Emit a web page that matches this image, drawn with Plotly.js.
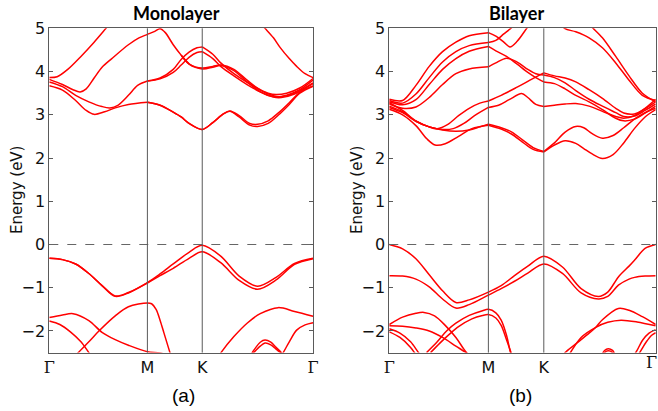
<!DOCTYPE html>
<html>
<head>
<meta charset="utf-8">
<script src="https://cdn.plot.ly/plotly-3.0.1.min.js"></script>
<style>html,body{margin:0;padding:0;background:#fff}</style>
</head>
<body>
<div id="chart" style="width:658px;height:411px"></div>
<script>
// high-symmetry points along the k-path (fraction of path length)
const kPoints = [0, 0.372, 0.58, 1];
const kLabels = ['Γ', 'M', 'K', 'Γ'];

// ---------------- Monolayer (a) ----------------
// valence bands
const mV1_x = [0,0.05,0.1,0.15,0.2,0.25,0.3,0.372,0.42,0.47,0.53,0.58,0.65,0.72,0.79,0.86,0.93,1];
const mV1a_y = [-0.32,-0.35,-0.45,-0.67,-0.95,-1.19,-1.11,-0.88,-0.68,-0.45,-0.18,-0.02,-0.27,-0.73,-0.965,-0.76,-0.44,-0.32];
const mV1b_y = [-0.32,-0.35,-0.45,-0.67,-0.95,-1.2,-1.12,-0.89,-0.72,-0.55,-0.32,-0.17,-0.42,-0.83,-1.035,-0.82,-0.46,-0.33];
const mV2_x = [0,0.05,0.09,0.15,0.2,0.25,0.3,0.372,0.42,0.47];
const mV2_y = [-1.69,-1.63,-1.6,-1.76,-2.03,-2.2,-2.33,-2.48,-2.51,-2.6];
const mV3_x = [0,0.04,0.08,0.12,0.15,0.18];
const mV3_y = [-1.77,-1.85,-2.02,-2.25,-2.5,-2.75];
const mV4_x = [0.09,0.11,0.15,0.19,0.25,0.3,0.372,0.388,0.405,0.42,0.435,0.45,0.465];
const mV4_y = [-2.65,-2.5,-2.25,-1.99,-1.65,-1.44,-1.35,-1.37,-1.5,-1.75,-2.05,-2.35,-2.65];
const mV5_x = [0.64,0.651,0.7,0.75,0.8,0.868,0.93,1];
const mV5_y = [-2.6,-2.5,-2.13,-1.82,-1.6,-1.46,-1.55,-1.66];
const mV6_x = [0.87,0.887,0.91,0.938,0.97,1];
const mV6_y = [-2.65,-2.5,-2.25,-1.98,-1.86,-1.81];
const mV7_x = [0.76,0.775,0.8,0.818,0.84,0.86,0.88,0.89];
const mV7a_y = [-2.6,-2.45,-2.26,-2.21,-2.26,-2.38,-2.5,-2.6];
const mV7b_y = [-2.6,-2.5,-2.35,-2.28,-2.32,-2.42,-2.52,-2.6];
// conduction bands
const mC1_x = [0,0.03,0.07,0.12,0.17,0.215,0.25];
const mC1_y = [3.86,3.88,4.05,4.35,4.68,5.0,5.25];
const mC2_x = [0,0.05,0.09,0.117,0.14,0.17,0.2,0.237,0.3,0.34,0.372,0.4,0.42,0.44,0.47,0.5,0.53];
const mC2_y = [3.82,3.7,3.58,3.53,3.6,3.85,4.1,4.3,4.62,4.78,4.86,4.93,4.99,4.9,4.62,4.38,4.18];
const mC3_x = [0,0.05,0.1,0.15,0.2,0.23,0.26,0.3,0.335,0.372];
const mC3_y = [3.76,3.65,3.45,3.3,3.19,3.16,3.22,3.45,3.68,3.78];
const mC4_x = [0,0.05,0.1,0.14,0.17,0.21,0.25,0.3,0.372];
const mC4_y = [3.67,3.57,3.33,3.1,3.01,3.07,3.16,3.24,3.29];
const mC5_x = [0.372,0.42,0.47,0.5,0.53,0.56,0.58];
const mC5a_y = [3.78,3.85,4.05,4.28,4.45,4.55,4.57];
const mC5b_y = [3.78,3.83,3.98,4.15,4.33,4.44,4.46];
const mC6_x = [0.5,0.53,0.58,0.62,0.65,0.7,0.75,0.8,0.85,0.88,0.93,1];
const mC6a_y = [4.38,4.18,4.08,4.12,4.15,4.05,3.8,3.57,3.44,3.42,3.5,3.74];
const mC6b_y = [4.38,4.17,4.06,4.1,4.14,4.02,3.76,3.53,3.41,3.4,3.48,3.72];
const mC7_x = [0.58,0.62,0.65,0.7,0.75,0.8,0.83,0.86,0.9,0.95,1];
const mC7a_y = [4.57,4.4,4.2,3.95,3.75,3.58,3.5,3.47,3.5,3.62,3.84];
const mC7b_y = [4.46,4.3,4.12,3.9,3.7,3.53,3.45,3.41,3.45,3.58,3.8];
const mC8_x = [0.372,0.42,0.47,0.5,0.53,0.58,0.62,0.66,0.685,0.72,0.76,0.79,0.83,0.87,0.91,0.95,1];
const mC8a_y = [3.29,3.22,3.06,2.95,2.8,2.66,2.82,3.02,3.09,2.98,2.8,2.78,2.86,3.05,3.28,3.52,3.67];
const mC8b_y = [3.29,3.22,3.06,2.95,2.8,2.66,2.82,3.02,3.08,2.95,2.76,2.73,2.8,3.0,3.24,3.5,3.66];
const mC9_x = [0.8,0.818,0.85,0.875,0.91,0.938,0.97,1];
const mC9_y = [5.12,5.0,4.78,4.56,4.3,4.12,3.95,3.86];

// ---------------- Bilayer (b) ----------------
const bV1_x = [0,0.05,0.1,0.15,0.2,0.25,0.3,0.372,0.42,0.47,0.52,0.58,0.65,0.72,0.785,0.82,0.86,0.9,0.921,0.96,1];
const bV1a_y = [0,-0.1,-0.33,-0.7,-1.07,-1.34,-1.28,-1.1,-0.95,-0.72,-0.5,-0.27,-0.52,-1.02,-1.2,-1.1,-0.75,-0.5,-0.36,-0.09,0];
const bV1b_y = [-0.72,-0.73,-0.8,-0.98,-1.26,-1.47,-1.39,-1.17,-1.02,-0.85,-0.66,-0.45,-0.67,-1.12,-1.26,-1.2,-0.94,-0.8,-0.76,-0.73,-0.72];
const bV2_x = [0.14,0.18,0.215,0.25,0.3,0.35,0.372,0.4,0.42,0.44,0.455,0.47];
const bV2_y = [-2.5,-2.25,-2.0,-1.82,-1.64,-1.53,-1.5,-1.58,-1.75,-2.1,-2.5,-2.8];
const bV3_x = [0.155,0.19,0.225,0.26,0.31,0.35,0.372,0.4,0.42,0.44,0.46,0.475];
const bV3_y = [-2.5,-2.28,-2.08,-1.9,-1.72,-1.64,-1.62,-1.7,-1.87,-2.2,-2.55,-2.8];
const bV4_x = [0,0.05,0.1,0.13,0.17,0.21,0.25,0.28,0.31];
const bV4_y = [-1.85,-1.68,-1.59,-1.57,-1.65,-1.87,-2.15,-2.42,-2.65];
const bV5_x = [0,0.05,0.1,0.15,0.2,0.25,0.3,0.33];
const bV5_y = [-1.88,-1.89,-1.93,-2.0,-2.15,-2.35,-2.55,-2.7];
const bV6_x = [0,0.04,0.08,0.11,0.13];
const bV6_y = [-1.95,-2.05,-2.25,-2.5,-2.65];
const bV7_x = [0,0.04,0.08,0.1,0.12];
const bV7_y = [-2.02,-2.15,-2.38,-2.55,-2.7];
const bV8_x = [0.65,0.66,0.7,0.75,0.777,0.8,0.86,0.9,0.95,1];
const bV8_y = [-2.6,-2.5,-2.3,-2.05,-1.9,-1.74,-1.48,-1.52,-1.67,-1.85];
const bV9_x = [0.67,0.68,0.72,0.777,0.82,0.87,0.93,1];
const bV9_y = [-2.6,-2.5,-2.15,-1.91,-1.8,-1.75,-1.79,-1.88];
const bV10_x = [0.915,0.93,0.95,0.975,1];
const bV10_y = [-2.6,-2.45,-2.22,-2.05,-1.97];
const bV11_x = [0.93,0.945,0.965,0.985,1];
const bV11_y = [-2.6,-2.45,-2.25,-2.1,-2.04];
const bV12_x = [0.795,0.808,0.822,0.838,0.85];
const bV12a_y = [-2.58,-2.45,-2.41,-2.45,-2.58];
const bV12b_y = [-2.62,-2.5,-2.46,-2.5,-2.62];
// conduction Γ-M
const bCG_x = [0,0.05,0.1,0.15,0.2,0.25,0.3,0.372];
const bC1_y = [3.36,3.33,3.68,4.12,4.46,4.68,4.83,4.9];
const bC2_y = [3.33,3.27,3.48,3.86,4.22,4.46,4.6,4.67];
const bC3_y = [3.3,3.23,3.35,3.7,4.05,4.3,4.47,4.58];
const bC4_y = [3.25,3.15,3.18,3.4,3.7,3.95,4.06,4.11];
const bC5_x = [0,0.05,0.1,0.15,0.18,0.22,0.26,0.3,0.34,0.372];
const bC5_y = [3.28,3.1,2.86,2.72,2.68,2.78,2.98,3.15,3.27,3.32];
const bC6_x = [0,0.05,0.1,0.15,0.2,0.24,0.28,0.32,0.372];
const bC6_y = [3.2,3.07,2.85,2.72,2.66,2.68,2.8,2.98,3.17];
const bC7_x = [0,0.05,0.1,0.15,0.2,0.25,0.3,0.34,0.372];
const bC7_y = [3.17,3.05,2.85,2.72,2.65,2.62,2.65,2.72,2.78];
const bC8_x = [0,0.05,0.1,0.14,0.172,0.21,0.26,0.31,0.372];
const bC8_y = [3.13,3.0,2.75,2.45,2.3,2.33,2.5,2.68,2.76];
// conduction M-K
const bC9_x = [0.372,0.4,0.43,0.453,0.48,0.516,0.54];
const bC9_y = [4.9,4.82,4.68,4.57,4.7,5.0,5.2];
const bC10_x = [0.372,0.4,0.43,0.46,0.49];
const bC10_y = [4.67,4.72,4.87,5.02,5.2];
const bCMK_x = [0.372,0.4,0.44,0.48,0.52,0.55,0.58];
const bC11_y = [4.58,4.48,4.35,4.17,3.98,3.86,3.76];
const bC12_y = [4.11,4.2,4.31,4.22,4.05,3.95,3.92];
const bC13_x = [0.372,0.42,0.48,0.528,0.58];
const bC13_y = [3.32,3.45,3.64,3.8,3.97];
const bC14_x = [0.372,0.41,0.45,0.497,0.52,0.55,0.58];
const bC14_y = [3.17,3.22,3.35,3.49,3.4,3.24,3.19];
const bC15_x = [0.372,0.42,0.46,0.5,0.54,0.58];
const bC15_y = [2.78,2.7,2.6,2.42,2.24,2.15];
const bC16_y = [2.76,2.67,2.55,2.37,2.2,2.14];
// conduction K-Γ
const bC17_x = [0.62,0.658,0.7,0.75,0.8,0.85,0.9,0.95,1];
const bC17_y = [5.3,5.0,4.92,4.78,4.55,4.2,3.8,3.45,3.33];
const bC18_x = [0.74,0.765,0.8,0.85,0.9,0.95,1];
const bC18_y = [5.15,5.0,4.78,4.35,3.9,3.5,3.3];
const bCKG_x = [0.58,0.62,0.66,0.7,0.75,0.8,0.85,0.88,0.92,0.96,1];
const bC19_y = [3.97,3.9,3.85,3.76,3.58,3.38,3.15,3.04,3.02,3.14,3.3];
const bC20_y = [3.92,3.86,3.74,3.56,3.36,3.2,3.05,2.96,2.97,3.1,3.25];
const bC21_y = [3.76,3.72,3.6,3.45,3.3,3.12,2.92,2.86,2.9,3.04,3.2];
const bC22_y = [3.19,3.22,3.25,3.26,3.2,3.08,2.96,2.92,2.98,3.15,3.36];
const bC23_x = [0.58,0.62,0.66,0.7,0.73,0.76,0.8,0.84,0.88,0.92,0.96,1];
const bC23_y = [2.15,2.35,2.6,2.73,2.7,2.57,2.46,2.52,2.7,2.9,3.05,3.15];
const bC24_y = [2.14,2.3,2.4,2.34,2.22,2.1,1.99,2.08,2.35,2.68,2.95,3.12];

const monoBands = [
  [mV1_x,mV1a_y],[mV1_x,mV1b_y],[mV2_x,mV2_y],[mV3_x,mV3_y],[mV4_x,mV4_y],
  [mV5_x,mV5_y],[mV6_x,mV6_y],[mV7_x,mV7a_y],[mV7_x,mV7b_y],
  [mC1_x,mC1_y],[mC2_x,mC2_y],[mC3_x,mC3_y],[mC4_x,mC4_y],[mC5_x,mC5a_y],[mC5_x,mC5b_y],
  [mC6_x,mC6a_y],[mC6_x,mC6b_y],[mC7_x,mC7a_y],[mC7_x,mC7b_y],[mC8_x,mC8a_y],[mC8_x,mC8b_y],[mC9_x,mC9_y]
];
const biBands = [
  [bV1_x,bV1a_y],[bV1_x,bV1b_y],[bV2_x,bV2_y],[bV3_x,bV3_y],[bV4_x,bV4_y],[bV5_x,bV5_y],
  [bV6_x,bV6_y],[bV7_x,bV7_y],[bV8_x,bV8_y],[bV9_x,bV9_y],[bV10_x,bV10_y],[bV11_x,bV11_y],
  [bV12_x,bV12a_y],[bV12_x,bV12b_y],
  [bCG_x,bC1_y],[bCG_x,bC2_y],[bCG_x,bC3_y],[bCG_x,bC4_y],[bC5_x,bC5_y],[bC6_x,bC6_y],[bC7_x,bC7_y],[bC8_x,bC8_y],
  [bC9_x,bC9_y],[bC10_x,bC10_y],[bCMK_x,bC11_y],[bCMK_x,bC12_y],[bC13_x,bC13_y],[bC14_x,bC14_y],
  [bC15_x,bC15_y],[bC15_x,bC16_y],
  [bC17_x,bC17_y],[bC18_x,bC18_y],[bCKG_x,bC19_y],[bCKG_x,bC20_y],[bCKG_x,bC21_y],[bCKG_x,bC22_y],
  [bC23_x,bC23_y],[bC23_x,bC24_y]
];

const traces = [];
function addBand(b, xa, ya){
  traces.push({x:b[0], y:b[1], xaxis:xa, yaxis:ya, type:'scatter', mode:'lines',
    line:{color:'rgb(255,0,0)', width:1.5, shape:'spline', smoothing:0.9},
    hoverinfo:'skip', showlegend:false});
}
monoBands.forEach(b => addBand(b,'x','y'));
biBands.forEach(b => addBand(b,'x2','y2'));

const gray = '#5a5a5a';
const tickFont = {family:'DejaVu Sans', size:16, color:'#111'};
const ticktextX = kLabels.map(l => l === 'Γ' ? '<span style="font-family:DejaVu Serif">Γ</span>' : l);
function xAxis(domain){
  return {domain:domain, range:[0,1], tickvals:kPoints, ticktext:ticktextX, tickfont:tickFont,
    showgrid:false, zeroline:false, showline:true, mirror:true, linecolor:gray, linewidth:1,
    ticks:'', fixedrange:true};
}
function yAxis(anchor){
  return {domain:[0.1421,0.9311], range:[-2.5,5], anchor:anchor, tickvals:[-2,-1,0,1,2,3,4,5],
    tickfont:tickFont, ticks:'inside', ticklen:4, tickcolor:gray, mirror:'ticks',
    showgrid:false, zeroline:false, showline:true, linecolor:gray, linewidth:1,
    fixedrange:true};
}
const shapes = [];
[['x','y'],['x2','y2']].forEach(([xa,ya]) => {
  shapes.push({type:'line', xref:xa, yref:ya, x0:0, x1:1, y0:0, y1:0, line:{color:'#666', width:1, dash:'dash'}});
  [kPoints[1], kPoints[2]].forEach(k => {
    shapes.push({type:'line', xref:xa, yref:ya+' domain', x0:k, x1:k, y0:0, y1:1, line:{color:gray, width:1}});
  });
});

const titleFont = {family:'Lato', size:18, color:'#000'};
const axTitleFont = {family:'DejaVu Sans', size:15, color:'#111'};
const panelFont = {family:'Liberation Sans', size:19, color:'#000'};
const layout = {
  width:658, height:411, margin:{l:0,r:0,t:0,b:0},
  paper_bgcolor:'#fff', plot_bgcolor:'#fff',
  xaxis: xAxis([0.0749,0.4757]), yaxis: yAxis('x'),
  xaxis2: Object.assign(xAxis([0.5916,0.9965]), {anchor:'y2'}), yaxis2: yAxis('x2'),
  shapes: shapes,
  annotations:[
    {text:'<b>Monolayer</b>', xref:'paper', yref:'paper', x:176/658, y:1-13/411, showarrow:false, xanchor:'center', yanchor:'middle', font:titleFont},
    {text:'<b>Bilayer</b>', xref:'paper', yref:'paper', x:516/658, y:1-13/411, showarrow:false, xanchor:'center', yanchor:'middle', font:titleFont},
    {text:'Energy (eV)', xref:'paper', yref:'paper', x:17/658, y:1-190/411, textangle:-90, showarrow:false, xanchor:'center', yanchor:'middle', font:axTitleFont},
    {text:'Energy (eV)', xref:'paper', yref:'paper', x:357/658, y:1-190/411, textangle:-90, showarrow:false, xanchor:'center', yanchor:'middle', font:axTitleFont},
    {text:'<span style="font-family:DejaVu Serif">Γ</span>', xref:'paper', yref:'paper', x:651/658, y:1-362/411, showarrow:false, xanchor:'center', yanchor:'middle', font:tickFont},
    {text:'(a)', xref:'paper', yref:'paper', x:183/658, y:1-395/411, showarrow:false, xanchor:'center', yanchor:'middle', font:panelFont},
    {text:'(b)', xref:'paper', yref:'paper', x:520/658, y:1-395/411, showarrow:false, xanchor:'center', yanchor:'middle', font:panelFont}
  ]
};
Plotly.newPlot('chart', traces, layout, {staticPlot:true, displayModeBar:false});
</script>
</body>
</html>
